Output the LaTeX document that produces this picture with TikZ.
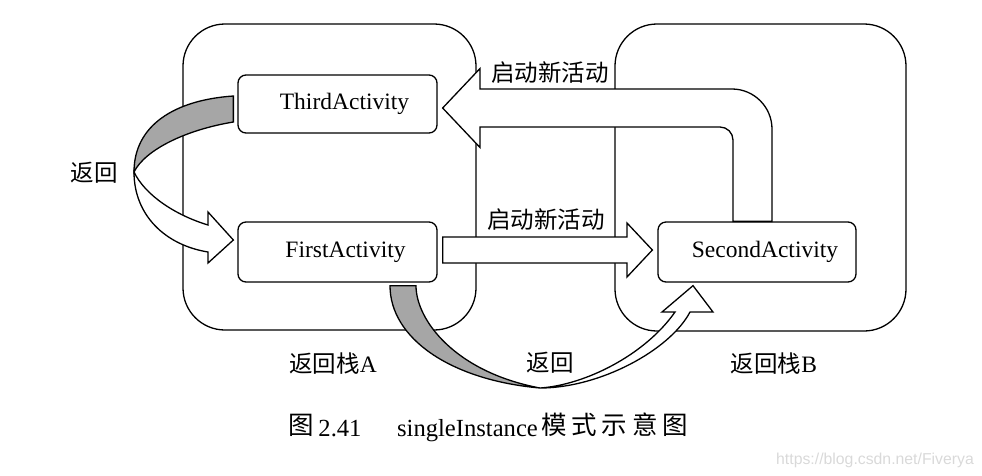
\documentclass[tikz,border=0pt]{standalone}
\usepackage{fontspec}
\setmainfont{Liberation Serif}
\newfontfamily\cjk{Noto Sans CJK SC}
\newfontfamily\wmfont{Liberation Sans}
\usetikzlibrary{calc}

\begin{document}
\begin{tikzpicture}[x=1pt,y=-1pt,
  stack/.style={draw, line width=1.3pt, rounded corners=42pt, inner sep=0pt},
  actbox/.style={draw, line width=1.3pt, rounded corners=8pt, fill=white,
    inner sep=0pt, minimum width=199pt, minimum height=60pt,
    font=\fontsize{23.5}{28}\selectfont},
  blockarrow/.style={draw, line width=1.3pt, fill=white, line join=miter},
  twistside/.style={draw, line width=1.3pt, fill=black!35, line join=miter},
  lbl/.style={inner sep=0pt, font=\fontsize{23.5}{28}\selectfont},
  caption/.style={inner sep=0pt, anchor=base, font=\fontsize{24.6}{29}\selectfont},
  captioncjk/.style={caption, font=\cjk\fontsize{25.5}{30}\selectfont},
]
\useasboundingbox (0,0) rectangle (982,475);

% the two back stacks
\node[stack, minimum width=293pt, minimum height=306pt] (stackA) at (329.5,177) {};
\node[stack, minimum width=291pt, minimum height=307pt] (stackB) at (760.5,177.5) {};

% activities
\node[actbox, minimum height=58pt] (third) at (337.5,104) {\hspace*{14pt}ThirdActivity};
\node[actbox] (first) at (337.5,252) {\hspace*{16pt}FirstActivity};
\node[actbox, minimum width=198pt] (second) at (757,252) {\hspace*{16pt}SecondActivity};

% SecondActivity starts ThirdActivity: bent block arrow
\draw[blockarrow] ($(second.north)+(-24,0)$) -- (733,140)
  .. controls (733,132.8) and (727.2,127) .. (720,127)
  -- (480,127) -- (480,147.5) -- ($(third.east)+(5,4)$) -- (480,68.5) -- (480,89)
  -- (732,89) .. controls (754,89) and (772,107) .. (772,129)
  -- ($(second.north)+(15,0)$) -- cycle;

% FirstActivity starts SecondActivity: straight block arrow
\draw[blockarrow] ($(first.east)+(5,-15)$) -- (627,237) -- (627,223)
  -- ($(second.west)+(-5,-2)$) -- (627,277) -- (627,263)
  -- ($(first.east)+(5,11)$) -- cycle;

% back from ThirdActivity to FirstActivity: twisted ribbon arrow
\draw[twistside] ($(third.west)+(-4,-8)$) .. controls (175,100) and (134,125) .. (134,172)
  .. controls (145,150) and (185,130) .. ($(third.west)+(-4,18)$) -- cycle;
\draw[blockarrow] (134,172) .. controls (134,215) and (165,245) .. (208,252)
  -- (208,263) -- ($(first.west)+(-4,-12)$) -- (208,212) -- (208,225)
  .. controls (175,215) and (145,195) .. (134,172) -- cycle;

% back from FirstActivity to SecondActivity: twisted ribbon arrow
\draw[twistside] ($(first.south)+(52.5,3)$) .. controls (390,338) and (450,380) .. (540,388)
  .. controls (455,372) and (416,320) .. ($(first.south)+(78.5,3)$) -- cycle;
\draw[blockarrow] (540,388) .. controls (600,388) and (670,350) .. (690,312)
  -- (713,312) -- ($(second.south)+(-64,3)$) -- (662,312) -- (675,312)
  .. controls (645,355) and (585,385) .. (540,388) -- cycle;

% labels
\node[lbl] (startTop) at (550,73) {\cjk 启动新活动};
\node[lbl] (startMid) at (546,220) {\cjk 启动新活动};
\node[lbl] (backLeft) at (94,173) {\cjk 返回};
\node[lbl] (backBottom) at (550,363) {\cjk 返回};
\node[lbl] (nameA) at (333,364) {{\cjk 返回栈}A};
\node[lbl] (nameB) at (774,364) {{\cjk 返回栈}B};

% caption
\node[captioncjk] (capFig) at (301,434) {图};
\node[caption] (capNum) at (340,436) {2.41};
\node[caption] (capMode) at (467.5,436) {singleInstance};
\node[captioncjk] (capText) at (614.5,434)
  {\makebox[147pt][s]{模\hfill 式\hfill 示\hfill 意\hfill 图}};

% source line
\node[inner sep=0pt, text=black!15, font=\wmfont\fontsize{15.8}{18}\selectfont] (source) at (875,460) {https://blog.csdn.net/Fiverya};
\end{tikzpicture}
\end{document}
